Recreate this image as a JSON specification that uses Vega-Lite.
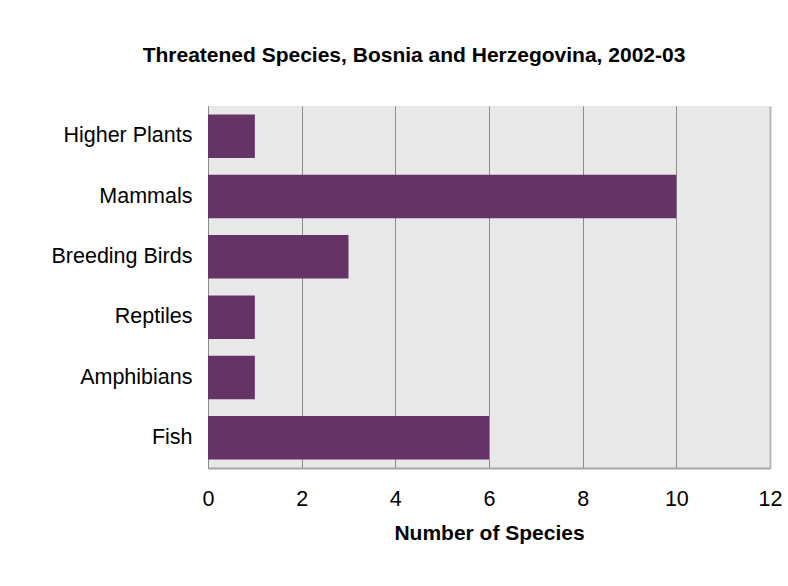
{
  "$schema": "https://vega.github.io/schema/vega-lite/v6.json",
  "width": 562,
  "height": 362,
  "autosize": "none",
  "padding": {"left": 208, "top": 106, "right": 18, "bottom": 118},
  "background": "white",
  "title": {
    "text": "Threatened Species, Bosnia and Herzegovina, 2002-03",
    "font": "Liberation Sans",
    "fontSize": 21,
    "fontWeight": "bold",
    "color": "black",
    "anchor": "middle",
    "dx": -75,
    "offset": 40
  },
  "data": {
    "values": [
      {"category": "Higher Plants", "count": 1},
      {"category": "Mammals", "count": 10},
      {"category": "Breeding Birds", "count": 3},
      {"category": "Reptiles", "count": 1},
      {"category": "Amphibians", "count": 1},
      {"category": "Fish", "count": 6}
    ]
  },
  "mark": {"type": "bar", "color": "#663366"},
  "encoding": {
    "y": {
      "field": "category",
      "type": "nominal",
      "sort": null,
      "scale": {"paddingInner": 0.28, "paddingOuter": 0.14},
      "axis": {
        "title": null,
        "ticks": false,
        "domain": true,
        "domainColor": "#8c8c8c",
        "domainWidth": 1,
        "labelFont": "Liberation Sans",
        "labelFontSize": 21.5,
        "labelColor": "black",
        "labelPadding": 16,
        "labelLimit": 200
      }
    },
    "x": {
      "field": "count",
      "type": "quantitative",
      "scale": {"domain": [0, 12], "nice": false},
      "axis": {
        "values": [0, 2, 4, 6, 8, 10, 12],
        "title": "Number of Species",
        "titleFont": "Liberation Sans",
        "titleFontSize": 21,
        "titleFontWeight": "bold",
        "titleColor": "black",
        "titlePadding": 13,
        "ticks": false,
        "domain": true,
        "domainColor": "#a6a6a6",
        "domainWidth": 2,
        "grid": true,
        "gridColor": {"condition": {"test": "datum.value === 12", "value": "#b8b8b8"}, "value": "#8c8c8c"},
        "gridWidth": {"condition": {"test": "datum.value === 12", "value": 2}, "value": 1},
        "gridOpacity": 1,
        "labelFont": "Liberation Sans",
        "labelFontSize": 21.5,
        "labelColor": "black",
        "labelPadding": 20,
        "labelFlush": false,
        "labelOverlap": false
      }
    }
  },
  "config": {"view": {"fill": "#e8e8e8", "stroke": null}}
}
